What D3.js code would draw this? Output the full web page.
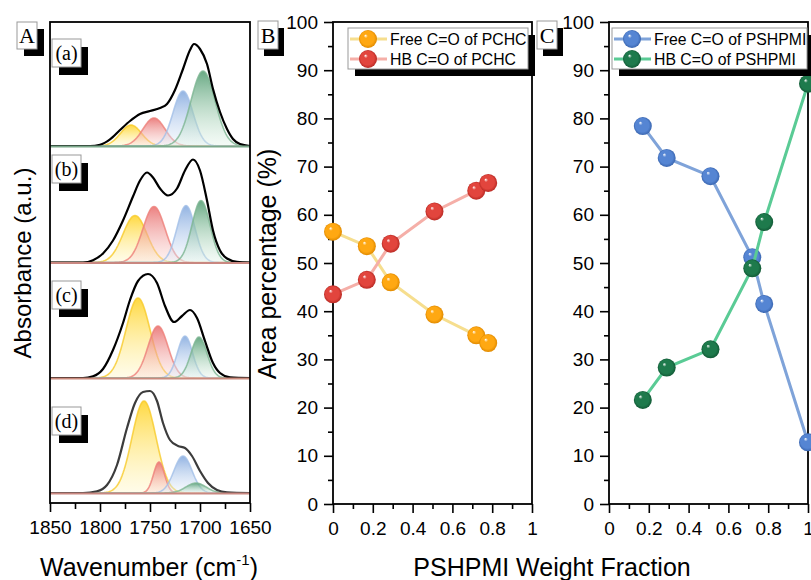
<!DOCTYPE html>
<html>
<head>
<meta charset="utf-8">
<script src="https://cdn.jsdelivr.net/npm/d3@7"></script>
<style>
  body { margin: 0; background: #fff; }
  svg { display: block; font-family: Arial, "Liberation Sans", sans-serif; }
</style>
</head>
<body>
<svg id="chart" width="811" height="580"></svg>
<script>
// ---- data ----
const wavenumberTicks = [1850, 1800, 1750, 1700, 1650];
const wavenumberMinor = [1825, 1775, 1725, 1675];
const fractionTicks = [0, 0.2, 0.4, 0.6, 0.8, 1];
const fractionMinor = [0.1, 0.3, 0.5, 0.7, 0.9];
const percentTicks = [0, 10, 20, 30, 40, 50, 60, 70, 80, 90, 100];
const percentMinor = [5, 15, 25, 35, 45, 55, 65, 75, 85, 95];
const spectrumLabels = ["(a)", "(b)", "(c)", "(d)"];

// measured envelopes [wavenumber, absorbance (arb.)]
const envelopeA = [[1850,0],[1810,0],[1800,1.3],[1790,6.7],[1780,16],[1770,25],[1760,32],[1750,35],[1740,38],[1733,42],[1725,56],[1717,77],[1710,96],[1706,102],[1700,97],[1693,82],[1687,57],[1680,34],[1673,17],[1667,7],[1660,2],[1650,0]];
const envelopeB = [[1850,0],[1817,0],[1807,2.3],[1797,9],[1787,22],[1777,42],[1767,66],[1760,82],[1753,90],[1747,85],[1740,74],[1732,67],[1723,74],[1715,92],[1707,103],[1700,92],[1693,62],[1687,32],[1680,12],[1673,4],[1663,0.7],[1650,0]];
const envelopeC = [[1850,0],[1817,0],[1807,1.7],[1797,9],[1787,28],[1777,55],[1770,78],[1762,97],[1752,104],[1743,95],[1735,72],[1726,56],[1718,62],[1710,68],[1703,60],[1695,37],[1687,15],[1680,5],[1670,0.7],[1650,0]];
const envelopeD = [[1850,0],[1817,0],[1803,1.7],[1793,8],[1783,28],[1773,65],[1765,90],[1757,101],[1750,102],[1743,92],[1737,70],[1730,53],[1722,47],[1715,45],[1708,37],[1700,22],[1692,10],[1683,3],[1673,0.7],[1650,0]];

// fitted bands [center, sigma, height]: free PCHC, HB PCHC, free PSHPMI, HB PSHPMI
const peaksA = [[1769, 10.5, 21], [1746, 11, 28], [1717, 10, 55], [1697, 12, 75]];
const peaksB = [[1765, 12, 47], [1746, 11, 56], [1714, 9, 57], [1699, 9, 62]];
const peaksC = [[1762, 12, 80], [1742, 10, 52], [1715, 7.5, 42], [1701, 8, 41]];
const peaksD = [[1756, 12, 92], [1741, 5.5, 31], [1717, 9, 37], [1704, 10, 10]];

const fractionPCHC = [0, 0.17, 0.29, 0.51, 0.72, 0.78];
const freePCHC = [56.5, 53.5, 46, 39.3, 35, 33.4];
const hbPCHC = [43.5, 46.5, 54, 60.7, 65, 66.6];

const fractionPSHPMI = [0.17, 0.29, 0.51, 0.72, 0.78, 1];
const freePSHPMI = [78.4, 71.8, 68, 51.2, 41.5, 12.8];
const hbPSHPMI = [21.6, 28.3, 32.1, 48.9, 58.5, 87.2];

// ---- styles ----
const bandColors = [
  { top: "#FFD21F", bottom: "#FFF6C0", stroke: "#F7CB2A" },
  { top: "#E86A6A", bottom: "#FADAD6", stroke: "#EE8079" },
  { top: "#7FA6DD", bottom: "#E6EFFA", stroke: "#A3BFE7" },
  { top: "#4E9A6E", bottom: "#E0F3E6", stroke: "#7DB592" }
];
const dividerColors = ["#7AA78A", "#C98780", "#C98A7C", "#C98780"];
const envelopeColors = ["#000", "#000", "#000", "#3c3c3c"];

const svg = d3.select("#chart");
const defs = svg.append("defs");

bandColors.forEach((c, i) => {
  const g = defs.append("linearGradient").attr("id", "band" + i)
    .attr("x1", 0).attr("y1", 0).attr("x2", 0).attr("y2", 1);
  g.append("stop").attr("offset", "0%").attr("stop-color", c.top).attr("stop-opacity", 0.85);
  g.append("stop").attr("offset", "100%").attr("stop-color", c.bottom).attr("stop-opacity", 0.35);
});

function sphereGradient(id, base, dark) {
  const g = defs.append("radialGradient").attr("id", id)
    .attr("cx", "50%").attr("cy", "50%").attr("r", "50%")
    .attr("fx", "35%").attr("fy", "30%");
  g.append("stop").attr("offset", "0%").attr("stop-color", "#fff");
  g.append("stop").attr("offset", "22%").attr("stop-color", base).attr("stop-opacity", 1);
  g.append("stop").attr("offset", "75%").attr("stop-color", base);
  g.append("stop").attr("offset", "100%").attr("stop-color", dark);
}

const series = [
  { name: "Free C=O of PCHC", x: fractionPCHC, y: freePCHC, line: "#F6DE8E", base: "#FFA812", dark: "#E08A00", id: "s0", panel: 0 },
  { name: "HB C=O of PCHC", x: fractionPCHC, y: hbPCHC, line: "#F5AFA8", base: "#E2453D", dark: "#B82A24", id: "s1", panel: 0 },
  { name: "Free C=O of PSHPMI", x: fractionPSHPMI, y: freePSHPMI, line: "#7FA3D9", base: "#5585D3", dark: "#3A66B0", id: "s2", panel: 1 },
  { name: "HB C=O of PSHPMI", x: fractionPSHPMI, y: hbPSHPMI, line: "#5ACB95", base: "#1E7A4C", dark: "#125A36", id: "s3", panel: 1 }
];
series.forEach(s => sphereGradient(s.id, s.base, s.dark));

// ---- helper: boxed label with black drop shadow ----
function shadowLabel(x, y, w, h, text, size, dx, dy) {
  svg.append("rect").attr("x", x + dx).attr("y", y + dy).attr("width", w).attr("height", h).attr("fill", "#000");
  svg.append("rect").attr("x", x).attr("y", y).attr("width", w).attr("height", h)
    .attr("fill", "#fff").attr("stroke", "#999").attr("stroke-width", 1);
  svg.append("text").attr("x", x + w / 2).attr("y", y + h / 2 + size * 0.35)
    .attr("text-anchor", "middle").attr("font-family", "'Liberation Serif', 'DejaVu Serif', serif")
    .attr("font-size", size).text(text);
}

// ================= Panel A: FTIR spectra =================
const A = { left: 50, right: 250, top: 22, bottom: 503 };
const xW = d3.scaleLinear().domain([1850, 1650]).range([A.left, A.right]);
const baselines = [146, 262.5, 378, 493];
const envelopes = [envelopeA, envelopeB, envelopeC, envelopeD];
const peaks = [peaksA, peaksB, peaksC, peaksD];
const labelTops = [39, 155, 281, 407];
const grid = d3.range(1850, 1649, -1);

envelopes.forEach((env, k) => {
  const yA = d3.scaleLinear().domain([0, 110]).range([baselines[k], baselines[k] - 110]);
  const g = svg.append("g");
  peaks[k].forEach((p, i) => {
    const pts = grid.map(w => [w, p[2] * Math.exp(-((w - p[0]) ** 2) / (2 * p[1] * p[1]))]);
    g.append("path").datum(pts)
      .attr("fill", `url(#band${i})`)
      .attr("d", d3.area().x(d => xW(d[0])).y0(yA(0)).y1(d => yA(d[1])));
    g.append("path").datum(pts)
      .attr("fill", "none").attr("stroke", bandColors[i].stroke).attr("stroke-opacity", 0.8)
      .attr("stroke-width", 1.6)
      .attr("d", d3.line().x(d => xW(d[0])).y(d => yA(d[1])));
  });
  g.append("path").datum(env)
    .attr("fill", "none").attr("stroke", envelopeColors[k]).attr("stroke-width", 2.2)
    .attr("d", d3.line().curve(d3.curveMonotoneX).x(d => xW(d[0])).y(d => yA(d[1])));
  svg.append("line").attr("x1", A.left).attr("x2", A.right)
    .attr("y1", baselines[k] + 0.5).attr("y2", baselines[k] + 0.5)
    .attr("stroke", dividerColors[k]).attr("stroke-width", 2);
  shadowLabel(52, labelTops[k], 29, 28, spectrumLabels[k], 20, 7, 8);
});

svg.append("rect").attr("x", A.left).attr("y", A.top)
  .attr("width", A.right - A.left).attr("height", A.bottom - A.top)
  .attr("fill", "none").attr("stroke", "#000").attr("stroke-width", 1.8);

const axA = svg.append("g").attr("transform", `translate(0,${A.bottom})`)
  .call(d3.axisBottom(xW).tickValues(wavenumberTicks).tickFormat(d3.format("d")).tickSize(9).tickPadding(9));
svg.append("g").attr("transform", `translate(0,${A.bottom})`)
  .call(d3.axisBottom(xW).tickValues(wavenumberMinor).tickFormat("").tickSize(6))
  .call(g => g.select(".domain").remove());
axA.select(".domain").remove();

svg.append("text").attr("transform", "translate(31,263) rotate(-90)")
  .attr("text-anchor", "middle").attr("font-size", 24).text("Absorbance (a.u.)");
const wt = svg.append("text").attr("x", 149).attr("y", 576).attr("text-anchor", "middle").attr("font-size", 25);
wt.append("tspan").text("Wavenumber (cm");
wt.append("tspan").attr("font-size", 15).attr("dy", -11).text("-1");
wt.append("tspan").attr("dy", 11).text(")");

// ================= Panels B and C: area percentages =================
const panels = [
  { left: 333, right: 532, letterX: 258, legendX: 348, legendW: 180 },
  { left: 609, right: 808, letterX: 537, legendX: 612, legendW: 195 }
];
const plotTop = 22, plotBottom = 504;
const yP = d3.scaleLinear().domain([0, 100]).range([plotBottom, plotTop]);

panels.forEach((P, pi) => {
  const xF = d3.scaleLinear().domain([0, 1]).range([P.left, P.right]);

  svg.append("rect").attr("x", P.left).attr("y", plotTop)
    .attr("width", P.right - P.left).attr("height", plotBottom - plotTop)
    .attr("fill", "none").attr("stroke", "#000").attr("stroke-width", 1.8);

  const ax = svg.append("g").attr("transform", `translate(0,${plotBottom})`)
    .call(d3.axisBottom(xF).tickValues(fractionTicks).tickFormat(d3.format("~g")).tickSize(9).tickPadding(9));
  ax.select(".domain").remove();
  svg.append("g").attr("transform", `translate(0,${plotBottom})`)
    .call(d3.axisBottom(xF).tickValues(fractionMinor).tickFormat("").tickSize(5))
    .call(g => g.select(".domain").remove());

  const ay = svg.append("g").attr("transform", `translate(${P.left},0)`)
    .call(d3.axisLeft(yP).tickValues(percentTicks).tickSize(9).tickPadding(6));
  ay.select(".domain").remove();
  svg.append("g").attr("transform", `translate(${P.left},0)`)
    .call(d3.axisLeft(yP).tickValues(percentMinor).tickFormat("").tickSize(5))
    .call(g => g.select(".domain").remove());

  // data
  series.filter(s => s.panel === pi).forEach(s => {
    const pts = s.x.map((x, i) => [x, s.y[i]]);
    svg.append("path").datum(pts)
      .attr("fill", "none").attr("stroke", s.line).attr("stroke-width", 3)
      .attr("d", d3.line().x(d => xF(d[0])).y(d => yP(d[1])));
    svg.append("g").selectAll("circle").data(pts).join("circle")
      .attr("cx", d => xF(d[0])).attr("cy", d => yP(d[1])).attr("r", 9)
      .attr("fill", `url(#${s.id})`);
  });

  // legend
  const lx = P.legendX, ly = 28;
  svg.append("rect").attr("x", lx + 7).attr("y", ly + 7).attr("width", P.legendW).attr("height", 41).attr("fill", "#000");
  svg.append("rect").attr("x", lx).attr("y", ly).attr("width", P.legendW).attr("height", 41)
    .attr("fill", "#fff").attr("stroke", "#999").attr("stroke-width", 1);
  series.filter(s => s.panel === pi).forEach((s, i) => {
    const yy = ly + 11 + i * 20;
    svg.append("line").attr("x1", lx + 2).attr("x2", lx + 39).attr("y1", yy).attr("y2", yy)
      .attr("stroke", s.line).attr("stroke-width", 3);
    svg.append("circle").attr("cx", lx + 20).attr("cy", yy).attr("r", 9).attr("fill", `url(#${s.id})`);
    svg.append("text").attr("x", lx + 42).attr("y", yy + 6).attr("font-size", 15.8).text(s.name);
  });

  shadowLabel(P.letterX, 21, 20, 28, pi === 0 ? "B" : "C", 22, 6, 7);
});

svg.selectAll(".tick text").attr("font-size", 19).attr("font-family", "Arial, 'Liberation Sans', sans-serif").attr("fill", "#000");
svg.selectAll(".tick line").attr("stroke", "#000").attr("stroke-width", 1.6);

shadowLabel(17, 22, 20, 27, "A", 22, 7, 7);

svg.append("text").attr("transform", "translate(276,264) rotate(-90)")
  .attr("text-anchor", "middle").attr("font-size", 25).text("Area percentage (%)");
svg.append("text").attr("x", 552).attr("y", 576).attr("text-anchor", "middle")
  .attr("font-size", 25).text("PSHPMI Weight Fraction");
</script>
</body>
</html>
